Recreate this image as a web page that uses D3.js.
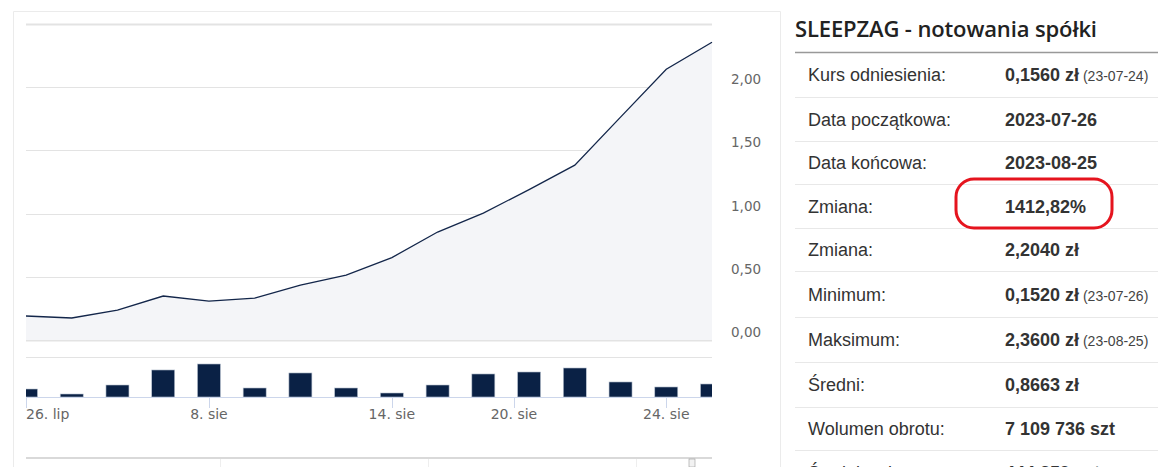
<!DOCTYPE html>
<html>
<head>
<meta charset="utf-8">
<script src="https://cdn.jsdelivr.net/npm/d3@7"></script>
<style>
  html, body { margin: 0; padding: 0; background: #fff; }
  svg { display: block; }
</style>
</head>
<body>
<svg width="1164" height="467"></svg>
<script>
// close prices per session (zl)
var closePrices = [0.190, 0.174, 0.237, 0.348, 0.308, 0.332, 0.435, 0.514,
  0.652, 0.854, 1.004, 1.190, 1.383, 1.763, 2.142, 2.356];
// session volumes (szt)
var volumes = [222000, 83000, 333000, 750000, 916000, 250000, 667000, 250000,
  111000, 333000, 639000, 694000, 805000, 417000, 278000, 361000];
// x axis ticks (position in sessions) and labels
var tickPos = [0, 4, 8, 10.67, 14];
var tickLabels = ["26. lip", "8. sie", "14. sie", "20. sie", "24. sie"];
var priceTicks = [0, 0.5, 1, 1.5, 2, 2.5];

// table
var title = "SLEEPZAG - notowania spółki";
var rowLabels = ["Kurs odniesienia:", "Data początkowa:", "Data końcowa:", "Zmiana:",
  "Zmiana:", "Minimum:", "Maksimum:", "Średni:", "Wolumen obrotu:", "Średni wolumen:"];
var rowValues = ["0,1560 zł", "2023-07-26", "2023-08-25", "1412,82%", "2,2040 zł",
  "0,1520 zł", "2,3600 zł", "0,8663 zł", "7 109 736 szt", "444 359 szt"];
var rowNotes = ["(23-07-24)", "", "", "", "", "(23-07-26)", "(23-08-25)", "", "", ""];
var rowLines = [52, 97, 141, 184, 228, 271, 317, 362, 407, 450, 495];

var svg = d3.select("svg");

var x = d3.scaleLinear().domain([0, closePrices.length - 1]).range([26, 712]);
var y = d3.scaleLinear().domain([0, 2.5]).range([340, 24]);
var yv = d3.scaleLinear().domain([0, 1110000]).range([397, 357]);

// panel border
svg.append("path")
  .attr("d", "M13.5,470V11.5H780.5V470")
  .attr("fill", "none")
  .attr("stroke", "#ebebeb");

svg.append("defs").append("clipPath").attr("id", "plot")
  .append("rect").attr("x", 26).attr("y", 20).attr("width", 686).attr("height", 380);

// price grid
svg.append("g").selectAll("line")
  .data(priceTicks)
  .enter().append("line")
  .attr("x1", 26).attr("x2", 712)
  .attr("y1", function(d) { return Math.round(y(d)) + 0.5; })
  .attr("y2", function(d) { return Math.round(y(d)) + 0.5; })
  .attr("stroke", "#e3e3e3")
  .attr("stroke-width", function(d) { return d == 0 || d == 2.5 ? 2 : 1; });

svg.append("g").selectAll("text")
  .data(priceTicks.slice(0, 5))
  .enter().append("text")
  .attr("x", 731)
  .attr("y", function(d) { return y(d) - 3; })
  .attr("fill", "#666")
  .style("font", "13.5px 'DejaVu Sans', sans-serif")
  .text(function(d) { return d3.format(".2f")(d).replace(".", ","); });

// area + line
svg.append("path")
  .datum(closePrices)
  .attr("fill", "#f4f5f8")
  .attr("d", d3.area()
    .x(function(d, i) { return x(i); })
    .y0(y(0))
    .y1(function(d) { return y(d); }));

svg.append("path")
  .datum(closePrices)
  .attr("fill", "none")
  .attr("stroke", "#13264a")
  .attr("stroke-width", 1.3)
  .attr("d", d3.line()
    .x(function(d, i) { return x(i); })
    .y(function(d) { return y(d); }));

// volume pane
svg.append("line")
  .attr("x1", 26).attr("x2", 712).attr("y1", 357.5).attr("y2", 357.5)
  .attr("stroke", "#e3e3e3");

svg.append("g").attr("clip-path", "url(#plot)")
  .selectAll("rect")
  .data(volumes)
  .enter().append("rect")
  .attr("x", function(d, i) { return x(i) - 11.5; })
  .attr("width", 23)
  .attr("y", function(d) { return yv(d); })
  .attr("height", function(d) { return yv(0) - yv(d); })
  .attr("fill", "#0a2145")
  .attr("stroke", "#b9c3d1")
  .attr("stroke-width", 0.6);

// x axis
var xAxis = svg.append("g");
xAxis.append("line")
  .attr("x1", 26).attr("x2", 712).attr("y1", 397.5).attr("y2", 397.5)
  .attr("stroke", "#ccd6eb");
xAxis.selectAll(".tick")
  .data(tickPos)
  .enter().append("line")
  .attr("x1", function(d) { return Math.round(x(d)) + 0.5; })
  .attr("x2", function(d) { return Math.round(x(d)) + 0.5; })
  .attr("y1", 397).attr("y2", 408)
  .attr("stroke", "#ccd6eb");
xAxis.selectAll("text")
  .data(tickPos)
  .enter().append("text")
  .attr("x", function(d) { return x(d); })
  .attr("y", 419)
  .attr("text-anchor", function(d, i) { return i == 0 ? "start" : "middle"; })
  .attr("fill", "#666")
  .style("font", "14px 'DejaVu Sans', sans-serif")
  .text(function(d, i) { return tickLabels[i]; });

// navigator edge (cut off at bottom)
svg.append("line")
  .attr("x1", 26).attr("x2", 712).attr("y1", 458).attr("y2", 458)
  .attr("stroke", "#cccccc").attr("stroke-width", 1.5);
svg.append("g").selectAll("line")
  .data([220, 428, 636])
  .enter().append("line")
  .attr("x1", function(d) { return d + 0.5; })
  .attr("x2", function(d) { return d + 0.5; })
  .attr("y1", 459).attr("y2", 467)
  .attr("stroke", "#eeeeee");
svg.append("rect")
  .attr("x", 689).attr("y", 459).attr("width", 6).attr("height", 8)
  .attr("fill", "#f2f2f2").attr("stroke", "#999").attr("stroke-width", 0.6);

// table
var tbl = svg.append("g");
tbl.append("text")
  .attr("x", 795).attr("y", 37)
  .attr("fill", "#222")
  .style("font", "600 22px 'Open Sans', sans-serif")
  .attr("textLength", 302)
  .text(title);

tbl.selectAll("line")
  .data(rowLines)
  .enter().append("line")
  .attr("x1", 795).attr("x2", 1158)
  .attr("y1", function(d) { return d + 0.5; })
  .attr("y2", function(d) { return d + 0.5; })
  .attr("stroke", function(d, i) { return i == 0 ? "#999" : "#e8e8e8"; })
  .attr("stroke-width", function(d, i) { return i == 0 ? 1.5 : 1; });

var rows = tbl.selectAll(".row")
  .data(rowLabels)
  .enter().append("g");

rows.append("text")
  .attr("x", 808)
  .attr("y", function(d, i) { return (rowLines[i] + rowLines[i + 1]) / 2 + 6.5; })
  .attr("fill", "#333")
  .style("font", "18px 'Liberation Sans', Arial, sans-serif")
  .text(function(d) { return d; });

var vals = rows.append("text")
  .attr("x", 1005)
  .attr("y", function(d, i) { return (rowLines[i] + rowLines[i + 1]) / 2 + 6.5; })
  .attr("fill", "#333")
  .style("font", "bold 18px 'Liberation Sans', Arial, sans-serif");
vals.append("tspan").text(function(d, i) { return rowValues[i]; });
vals.append("tspan")
  .style("font-weight", "normal")
  .style("font-size", "14px")
  .attr("fill", "#444")
  .text(function(d, i) { return rowNotes[i] ? " " + rowNotes[i] : ""; });

// red highlight around the change
tbl.append("rect")
  .attr("x", 956).attr("y", 179)
  .attr("width", 156).attr("height", 49)
  .attr("rx", 18).attr("ry", 18)
  .attr("fill", "none")
  .attr("stroke", "#e5141e")
  .attr("stroke-width", 3);
</script>
</body>
</html>
